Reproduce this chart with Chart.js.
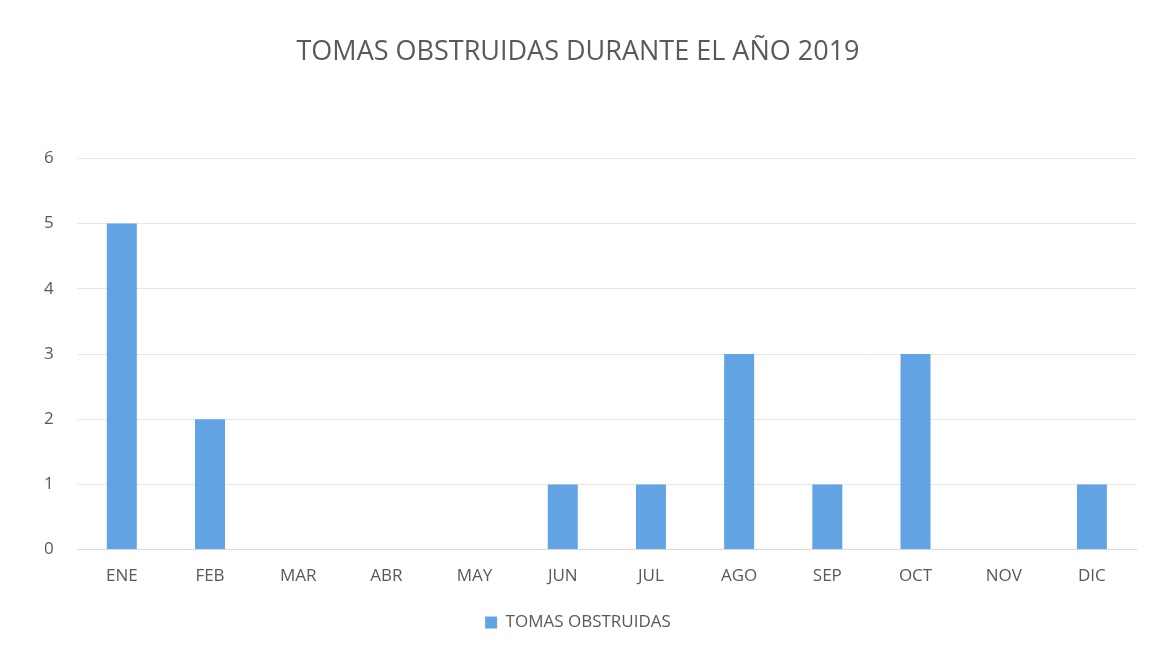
<!DOCTYPE html>
<html>
<head>
<meta charset="utf-8">
<script src="https://cdn.jsdelivr.net/npm/chart.js@4"></script>
<style>
html,body{margin:0;padding:0;background:#fff;}
#wrap{width:1152px;height:659px;position:relative;}
</style>
</head>
<body>
<div id="wrap"><canvas id="c" width="1152" height="659"></canvas></div>
<script>
const categories = ['ENE','FEB','MAR','ABR','MAY','JUN','JUL','AGO','SEP','OCT','NOV','DIC'];
const tomasObstruidas = [5,2,0,0,0,1,1,3,1,3,0,1];
const seriesName = 'TOMAS OBSTRUIDAS';
const chartTitle = 'TOMAS OBSTRUIDAS DURANTE EL AÑO 2019';

new Chart(document.getElementById('c'), {
  type: 'bar',
  data: {
    labels: categories,
    datasets: [{
      label: seriesName,
      data: tomasObstruidas,
      backgroundColor: '#62a3e3',
      borderWidth: 0,
      barPercentage: 0.34,
      categoryPercentage: 1
    }]
  },
  options: {
    responsive: false,
    animation: false,
    layout: {padding: {left: 20, right: 16, top: 26, bottom: 18}},
    plugins: {
      title: {
        display: true,
        text: chartTitle,
        color: '#595959',
        font: {family: 'Open Sans', size: 27, weight: 'normal'},
        padding: {top: 10, bottom: 90}
      },
      legend: {
        position: 'bottom',
        labels: {
          color: '#595959',
          font: {family: 'Open Sans', size: 17},
          boxWidth: 12,
          boxHeight: 12,
          padding: 20
        }
      },
      tooltip: {enabled: false}
    },
    scales: {
      x: {
        grid: {display: false},
        border: {color: '#d9d9d9'},
        ticks: {color: '#595959', font: {family: 'Open Sans', size: 17}, padding: 8}
      },
      y: {
        min: 0, max: 6,
        ticks: {stepSize: 1, color: '#595959', font: {family: 'Open Sans', size: 17}, padding: 24},
        grid: {color: '#e6e6e6', drawTicks: false},
        border: {display: false}
      }
    }
  }
});
</script>
</body>
</html>
